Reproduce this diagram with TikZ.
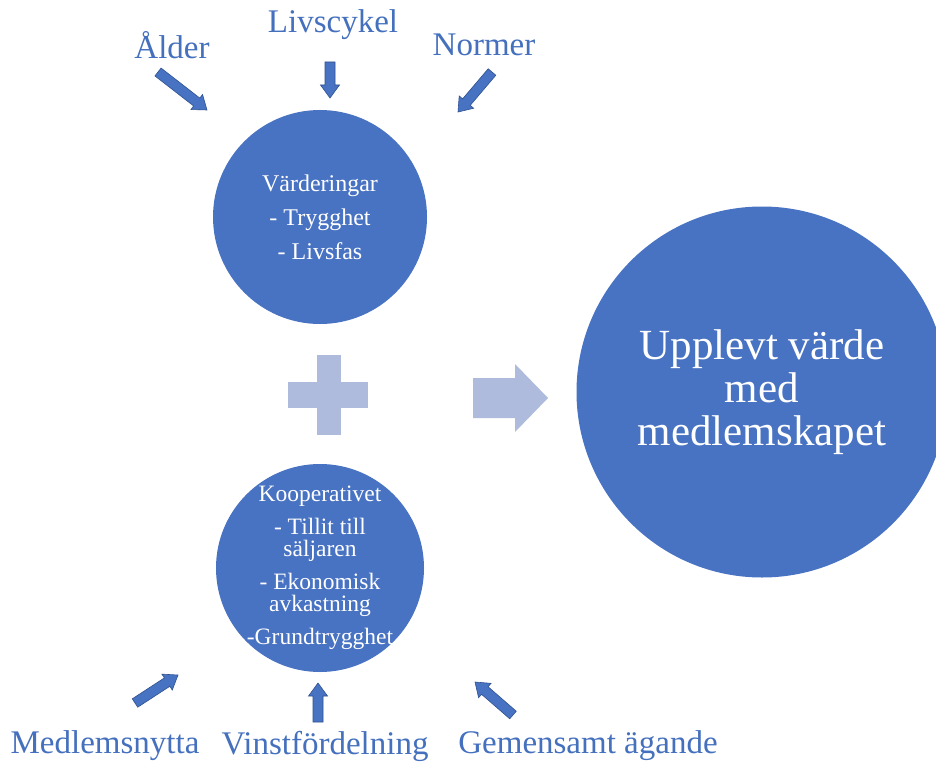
\documentclass[tikz,border=0pt]{standalone}
\usepackage{fontspec}
\setmainfont{Liberation Serif}
\usetikzlibrary{calc}
\definecolor{cblue}{HTML}{4872C2}
\definecolor{cedge}{HTML}{2F528F}
\definecolor{clight}{HTML}{AEBBDC}
\definecolor{ctext}{HTML}{4470BE}
% block arrow: tail, tip, shaft half width, head half width, head length, style
\newcommand\blockarr[6]{%
  \coordinate (neck) at ($(#2)!#5!(#1)$);
  \path[#6] ($(#1)!#3!90:(#2)$) -- ($(neck)!#3!90:(#2)$) -- ($(neck)!#4!90:(#2)$) -- (#2)
    -- ($(neck)!#4!-90:(#2)$) -- ($(neck)!#3!-90:(#2)$) -- ($(#1)!#3!-90:(#2)$) -- cycle;}
\begin{document}
\begin{tikzpicture}[x=1pt,y=-1pt,
  bubble/.style={circle, fill=cblue, text=white, align=center, inner sep=0pt},
  intext/.style={text=white, align=center, inner sep=0pt},
  lbl/.style={text=ctext, font=\fontsize{33}{33}\selectfont, inner sep=0pt},
  smallarr/.style={fill=cblue, draw=cedge, line width=0.6pt, line join=miter},
  bigarr/.style={fill=clight}]
\clip (0,0) rectangle (936,765);
\fill[white] (0,0) rectangle (936,765);

% circles
\node[bubble, minimum size=214, font=\fontsize{24}{34}\selectfont] (val) at (320,217)
  {Värderingar\\- Trygghet\\- Livsfas};
\node[bubble, minimum size=208] (koop) at (320,568) {};
\node[intext, font=\fontsize{23.5}{22}\selectfont] (kooptxt) at (koop.center)
  {Kooperativet\\[11pt]- Tillit till\\säljaren\\[11pt]- Ekonomisk\\avkastning\\[11pt]-Grundtrygghet};
\node[bubble, minimum size=371, font=\fontsize{43}{43}\selectfont] (uv) at (762,392)
  {Upplevt värde\\med\\medlemskapet};

% plus sign
\fill[clight] (317,355) rectangle (341,435);
\fill[clight] (288,382) rectangle (368,408);

% big arrow
\coordinate (gt) at (473,398);
\coordinate (gh) at (548,398);
\blockarr{gt}{gh}{20pt}{34pt}{33pt}{bigarr}

% labels
\node[lbl] (alder) at (172,45) {Ålder};
\node[lbl] (livs) at (333,25) {Livscykel};
\node[lbl] (norm) at (484,45) {Normer};
\node[lbl] (medl) at (105,746) {Medlemsnytta};
\node[lbl] (vinst) at (325,746) {Vinstfördelning};
\node[lbl] (gem) at (588,746) {Gemensamt ägande};

% small arrows
\coordinate (a1t) at (158,72);  \coordinate (a1h) at (207,110);
\coordinate (a2t) at (330,62);  \coordinate (a2h) at (330,98);
\coordinate (a3t) at (492,72);  \coordinate (a3h) at (458,112);
\coordinate (b1t) at (135,703); \coordinate (b1h) at (178,675);
\coordinate (b2t) at (318,722); \coordinate (b2h) at (318,683);
\coordinate (b3t) at (513,715); \coordinate (b3h) at (475,682);
\blockarr{a1t}{a1h}{5pt}{9.5pt}{13pt}{smallarr}
\blockarr{a2t}{a2h}{5pt}{9.5pt}{13pt}{smallarr}
\blockarr{a3t}{a3h}{5pt}{9.5pt}{13pt}{smallarr}
\blockarr{b1t}{b1h}{5pt}{9.5pt}{13pt}{smallarr}
\blockarr{b2t}{b2h}{5pt}{9.5pt}{13pt}{smallarr}
\blockarr{b3t}{b3h}{5pt}{9.5pt}{13pt}{smallarr}
\end{tikzpicture}
\end{document}
